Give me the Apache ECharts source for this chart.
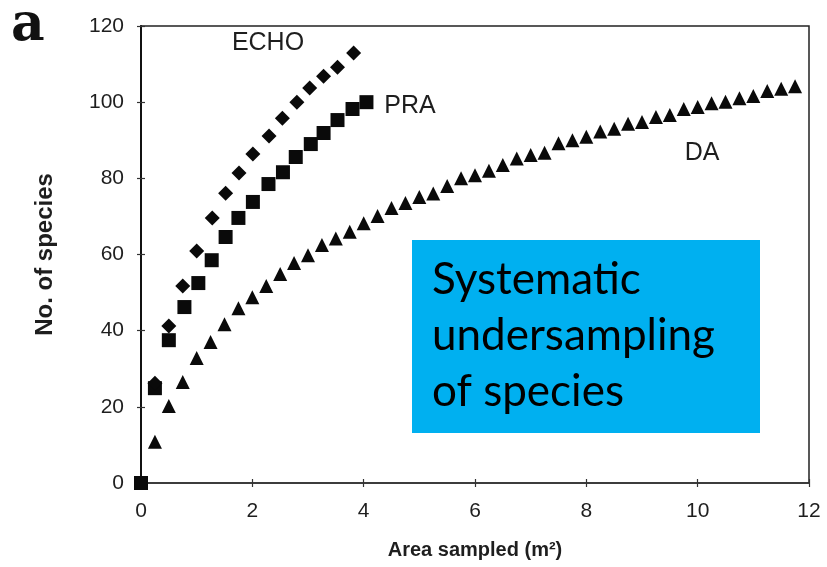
<!DOCTYPE html>
<html>
<head>
<meta charset="utf-8">
<script src="https://cdn.jsdelivr.net/npm/echarts@6/dist/echarts.min.js"></script>
<style>
  html, body { margin: 0; padding: 0; background: #fff; }
  #chart { width: 827px; height: 567px; }
</style>
</head>
<body>
<div id="chart"></div>
<script>
// area sampled (m2) / species counts
var echoX = [0.25, 0.5, 0.75, 1.0, 1.28, 1.52, 1.76, 2.01, 2.3, 2.54, 2.8, 3.03, 3.28, 3.53, 3.82];
var echoY = [26.2, 41.2, 51.7, 60.9, 69.6, 76.1, 81.4, 86.4, 91.1, 95.8, 100.0, 103.7, 106.8, 109.2, 112.9];

var praX = [0, 0.25, 0.5, 0.78, 1.03, 1.27, 1.52, 1.75, 2.01, 2.29, 2.55, 2.78, 3.05, 3.28, 3.53, 3.8, 4.05];
var praY = [0, 24.9, 37.5, 46.2, 52.5, 58.5, 64.6, 69.6, 73.8, 78.5, 81.6, 85.6, 89.0, 91.9, 95.3, 98.2, 100.0];

var daX = [0.25, 0.5, 0.75, 1.0, 1.25, 1.5, 1.75, 2.0, 2.25, 2.5, 2.75, 3.0, 3.25, 3.5, 3.75, 4.0,
           4.25, 4.5, 4.75, 5.0, 5.25, 5.5, 5.75, 6.0, 6.25, 6.5, 6.75, 7.0, 7.25, 7.5, 7.75, 8.0,
           8.25, 8.5, 8.75, 9.0, 9.25, 9.5, 9.75, 10.0, 10.25, 10.5, 10.75, 11.0, 11.25, 11.5, 11.75];
var daY = [10.8, 20.2, 26.5, 32.8, 37.0, 41.7, 45.9, 48.8, 51.7, 54.9, 57.8, 59.8, 62.5, 64.2, 66.0, 68.2,
           70.1, 72.2, 73.5, 75.1, 76.0, 78.0, 80.0, 80.8, 82.0, 83.5, 85.2, 86.1, 86.7, 89.2, 90.0, 90.9,
           92.3, 93.0, 94.3, 94.8, 96.1, 96.6, 98.2, 98.7, 99.7, 100.1, 101.0, 101.6, 102.9, 103.5, 104.2];

var xTicks = [0, 2, 4, 6, 8, 10, 12];
var yTicks = [0, 20, 40, 60, 80, 100, 120];

function pairs(xs, ys){
    var out = [];
    for(var i=0;i<xs.length;i++) out.push([xs[i], ys[i]]);
    return out;
}

var ink = '#0a0a0a',
    txt = '#1e1e1e',
    tickFont = 'Liberation Sans, Arial, sans-serif';

var chart = echarts.init(document.getElementById('chart'), null, {renderer: 'canvas'});

var option = {
    animation: false,
    backgroundColor: '#fff',
    grid: {
        left: 141,
        right: 18,
        top: 26,
        bottom: 84,
        show: true,
        borderColor: '#222',
        borderWidth: 1.5
    },
    xAxis: [{
        type: 'value',
        min: xTicks[0],
        max: xTicks[xTicks.length-1],
        interval: 2,
        name: 'Area sampled (m²)',
        nameLocation: 'middle',
        nameGap: 57,
        nameTextStyle: {fontFamily: tickFont, fontWeight: 'bold', fontSize: 20, color: txt},
        axisLine: {lineStyle: {color: '#333', width: 1.5}},
        axisTick: {length: 4, lineStyle: {color: '#333', width: 1.2}},
        axisLabel: {margin: 18, fontFamily: tickFont, fontSize: 21, color: txt},
        splitLine: {show: false}
    }, {
        type: 'value',
        min: xTicks[0],
        max: xTicks[xTicks.length-1],
        interval: 2,
        position: 'bottom',
        axisLine: {show: false},
        axisTick: {inside: true, length: 4, lineStyle: {color: '#333', width: 1.2}},
        axisLabel: {show: false},
        splitLine: {show: false}
    }],
    yAxis: [{
        type: 'value',
        min: yTicks[0],
        max: yTicks[yTicks.length-1],
        interval: 20,
        name: 'No. of species',
        nameLocation: 'middle',
        nameGap: 84,
        nameTextStyle: {fontFamily: tickFont, fontWeight: 'bold', fontSize: 24, color: txt},
        axisLine: {lineStyle: {color: '#111', width: 2}},
        axisTick: {length: 4, lineStyle: {color: '#333', width: 1.2}},
        axisLabel: {margin: 17, fontFamily: tickFont, fontSize: 21, color: txt},
        splitLine: {show: false}
    }, {
        type: 'value',
        min: yTicks[0],
        max: yTicks[yTicks.length-1],
        interval: 20,
        position: 'left',
        axisLine: {show: false},
        axisTick: {inside: true, length: 4, lineStyle: {color: '#333', width: 1.2}},
        axisLabel: {show: false},
        splitLine: {show: false}
    }],
    series: [
        {
            name: 'DA',
            type: 'scatter',
            symbol: 'triangle',
            symbolSize: [14, 14],
            itemStyle: {color: ink, opacity: 1},
            data: pairs(daX, daY)
        },
        {
            name: 'PRA',
            type: 'scatter',
            symbol: 'rect',
            symbolSize: 14,
            itemStyle: {color: ink, opacity: 1},
            data: pairs(praX, praY)
        },
        {
            name: 'ECHO',
            type: 'scatter',
            symbol: 'diamond',
            symbolSize: [15, 15],
            itemStyle: {color: ink, opacity: 1},
            data: pairs(echoX, echoY)
        }
    ],
    graphic: [
        {
            type: 'text', left: 11, top: 0,
            style: {text: 'a', font: 'bold 52px "DejaVu Serif", serif', fill: '#111'}
        },
        {
            type: 'text', x: 268, y: 43,
            style: {text: 'ECHO', font: '25px "Liberation Sans", Arial, sans-serif', fill: txt, align: 'center', verticalAlign: 'middle'}
        },
        {
            type: 'text', x: 410, y: 106,
            style: {text: 'PRA', font: '25px "Liberation Sans", Arial, sans-serif', fill: txt, align: 'center', verticalAlign: 'middle'}
        },
        {
            type: 'text', x: 702, y: 153,
            style: {text: 'DA', font: '25px "Liberation Sans", Arial, sans-serif', fill: txt, align: 'center', verticalAlign: 'middle'}
        },
        {
            type: 'rect',
            shape: {x: 412, y: 240, width: 348, height: 193},
            style: {fill: '#00b0f0'},
            z: 10
        },
        {
            type: 'text', x: 432, y: 252, z: 11,
            style: {
                text: 'Systematic\nundersampling\nof species',
                font: '44px Lato, "Open Sans", sans-serif',
                lineHeight: 56,
                fill: '#000'
            }
        }
    ]
};

chart.setOption(option);
</script>
</body>
</html>
